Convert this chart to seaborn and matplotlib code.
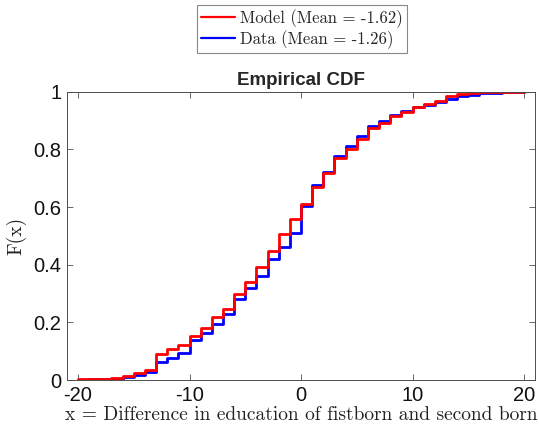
import matplotlib
matplotlib.use("Agg")
import matplotlib.pyplot as plt
import numpy as np
import pandas as pd
import seaborn as sns

# Support of the difference in years of education (integer values)
education_gap = list(range(-20, 21))

# Empirical CDF values F(x) at each integer x
model_cdf = [0.003, 0.004, 0.005, 0.008, 0.015, 0.023, 0.035, 0.090, 0.108, 0.122,
             0.153, 0.180, 0.218, 0.248, 0.298, 0.341, 0.392, 0.448, 0.507, 0.559,
             0.611, 0.669, 0.718, 0.770, 0.802, 0.836, 0.875, 0.893, 0.917, 0.930,
             0.949, 0.958, 0.969, 0.987, 0.993, 0.995, 0.998, 0.999, 0.999, 1.000,
             1.000]
data_cdf = [0.002, 0.003, 0.003, 0.004, 0.011, 0.017, 0.029, 0.063, 0.075, 0.095,
            0.140, 0.165, 0.195, 0.230, 0.280, 0.320, 0.360, 0.420, 0.460, 0.510,
            0.604, 0.677, 0.723, 0.778, 0.812, 0.846, 0.882, 0.900, 0.920, 0.932,
            0.949, 0.955, 0.963, 0.976, 0.984, 0.990, 0.995, 0.997, 0.999, 1.000,
            1.000]

series_labels = ["Model (Mean = -1.62)", "Data (Mean = -1.26)"]
series_colors = ["#ff0000", "#0000ff"]

x_ticks = [-20, -10, 0, 10, 20]
y_ticks = [0, 0.2, 0.4, 0.6, 0.8, 1]
y_tick_labels = ["0", "0.2", "0.4", "0.6", "0.8", "1"]

sns.set_style("ticks")
plt.rcParams["font.family"] = ["Liberation Sans", "DejaVu Sans"]
plt.rcParams["axes.unicode_minus"] = False

serif = "cmr10"
frame_color = "#4d4d4d"

fig, ax = plt.subplots(figsize=(5.39, 4.29), dpi=100)
fig.subplots_adjust(left=0.124, right=0.993, bottom=0.114, top=0.786)

# Data drawn first so that the model curve sits on top
sns.lineplot(x=education_gap, y=data_cdf, ax=ax, color=series_colors[1],
             linewidth=2.0, drawstyle="steps-post", estimator=None, sort=False)
sns.lineplot(x=education_gap, y=model_cdf, ax=ax, color=series_colors[0],
             linewidth=2.0, drawstyle="steps-post", estimator=None, sort=False)
data_line, model_line = ax.lines[0], ax.lines[1]

ax.set_xlim(-21, 21)
ax.set_ylim(0, 1)
ax.set_xticks(x_ticks)
ax.set_yticks(y_ticks)
ax.set_yticklabels(y_tick_labels)
ax.tick_params(direction="in", top=True, right=True, length=4, width=0.6,
               color=frame_color, labelsize=14.5, labelcolor="#111111", pad=4)
for side in ["left", "right", "top", "bottom"]:
    ax.spines[side].set_visible(True)
    ax.spines[side].set_linewidth(0.7)
    ax.spines[side].set_color(frame_color)

ax.set_title("Empirical CDF", fontweight="bold", fontsize=13.5, pad=5)
ax.set_xlabel("x = Difference in education of fistborn and second born",
              fontfamily=serif, fontsize=14, labelpad=1, color="#222222")
ax.set_ylabel("F(x)", fontfamily=serif, fontsize=14, labelpad=5, color="#222222")

leg = fig.legend([model_line, data_line], series_labels,
                 loc="upper center", bbox_to_anchor=(302 / 539, 1 - 5 / 429),
                 prop={"family": serif, "size": 12}, frameon=True, fancybox=False,
                 framealpha=1, edgecolor="#888888", handlelength=2.0,
                 handletextpad=0.3, borderpad=0.25, labelspacing=0.15,
                 borderaxespad=0)
leg.get_frame().set_linewidth(0.8)
for handle in leg.legend_handles:
    handle.set_linewidth(1.6)

fig.savefig("out.png", dpi=100)
